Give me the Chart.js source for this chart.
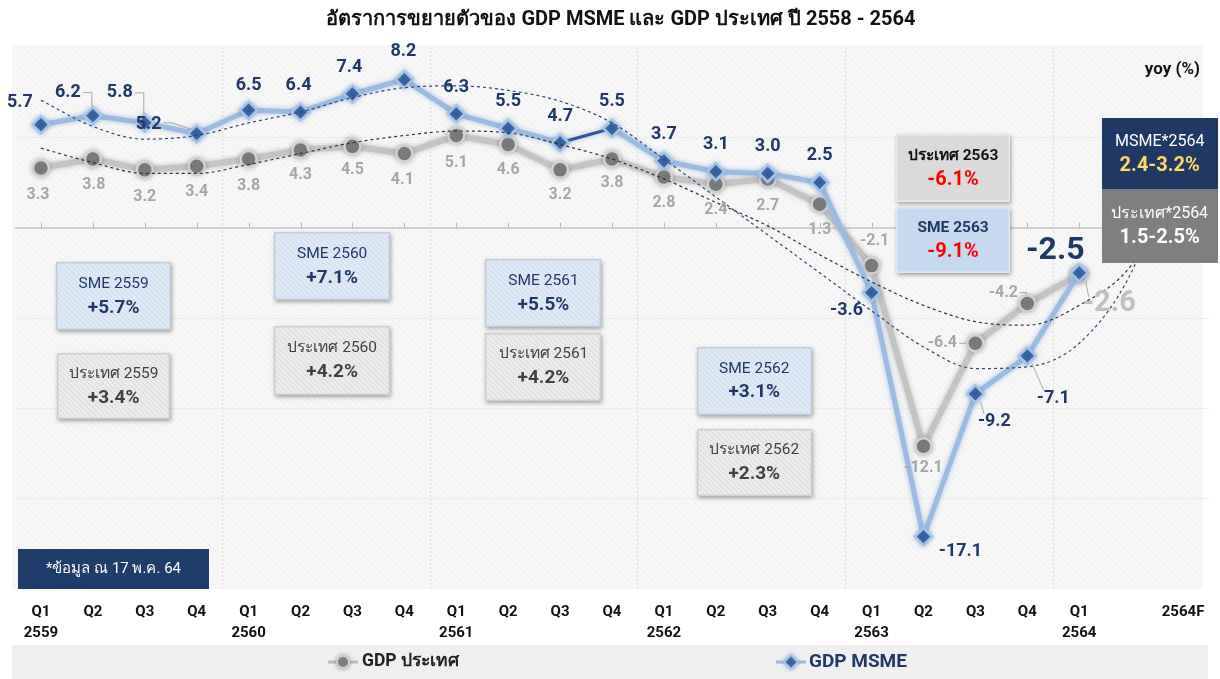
<!DOCTYPE html>
<html>
<head>
<meta charset="utf-8">
<script src="https://cdn.jsdelivr.net/npm/chart.js@4.4.1/dist/chart.umd.min.js"></script>
<style>
html,body{margin:0;padding:0;background:#fff;}
#wrap{width:1220px;height:679px;position:relative;}
</style>
</head>
<body>
<div id="wrap"><canvas id="c" width="1220" height="679"></canvas></div>
<script>
// ---------------- DATA ----------------
const quarterLabels = ['Q1','Q2','Q3','Q4','Q1','Q2','Q3','Q4','Q1','Q2','Q3','Q4','Q1','Q2','Q3','Q4','Q1','Q2','Q3','Q4','Q1','','2564F'];
const yearLabels    = ['2559','','','','2560','','','','2561','','','','2562','','','','2563','','','','2564','',''];
const gdpMsme   = [5.7, 6.2, 5.8, 5.2, 6.5, 6.4, 7.4, 8.2, 6.3, 5.5, 4.7, 5.5, 3.7, 3.1, 3.0, 2.5, -3.6, -17.1, -9.2, -7.1, -2.5];
const gdpThai   = [3.3, 3.8, 3.2, 3.4, 3.8, 4.3, 4.5, 4.1, 5.1, 4.6, 3.2, 3.8, 2.8, 2.4, 2.7, 1.3, -2.1, -12.1, -6.4, -4.2, -2.6];
// trend lines
const msmeTrend = [7.05, 5.6, 4.9, 5.1, 5.8, 6.4, 7.2, 7.75, 7.85, 7.6, 7.0, 5.8, 3.8, 1.7, -0.4, -2.5, -4.6, -6.6, -7.8, -7.7, -6.4, -2.5, 5.0];
const gdpTrend  = [4.4, 3.6, 3.0, 3.0, 3.5, 4.1, 4.7, 5.1, 5.35, 5.25, 4.6, 3.8, 2.7, 1.4, 0.1, -1.5, -3.0, -4.3, -5.2, -5.4, -4.3, -2.1, 3.0];
// summary boxes
const boxTitles = ['SME 2559','ประเทศ 2559','SME 2560','ประเทศ 2560','SME 2561','ประเทศ 2561','SME 2562','ประเทศ 2562','ประเทศ 2563','SME 2563','MSME*2564','ประเทศ*2564'];
const boxValues = ['+5.7%','+3.4%','+7.1%','+4.2%','+5.5%','+4.2%','+3.1%','+2.3%','-6.1%','-9.1%','2.4-3.2%','1.5-2.5%'];
const noteText = '*ข้อมูล ณ 17 พ.ค. 64';
const titleText = 'อัตราการขยายตัวของ GDP MSME และ GDP ประเทศ ปี 2558 - 2564';

// ---------------- LAYOUT / STYLE (not data) ----------------
const boxIdx   = [1.40,1.40,5.61,5.61,9.68,9.68,13.74,13.74,17.57,17.57,21.55,21.55];
const boxVal   = [-3.8,-8.75,-2.14,-7.33,-3.64,-7.69,-8.47,-13.0,3.3,-0.7,4.1,0.1];
const boxW     = [115,113,116,116,116,116,115,115,114,114,116,116];
const boxH     = [68,66,68,69,68,68,68,67,68,66,72,74];
const boxKind  = ['sme','gdp','sme','gdp','sme','gdp','sme','gdp','gdp63','sme63','msme64','gdp64'];

const msmeDx = [-21,-25,-25,-48,0,-2,-3,-1,0,0,0,0,0,0,0,0,-25,37,19,26,-24];
const msmeDy = [-22,-23,-30,-9,-25,-27,-26,-28,-26,-27,-26,-27,-26,-27,-27,-27,18,15,28,43,-22];
const msmeLead = [null,'bracket','bracket','elbow',null,null,null,null,null,null,null,null,null,null,null,null,null,null,'direct','direct',null];
const gdpDx = [-3,1,0,0,0,0,0,-2,0,0,0,0,0,0,0,0,3,0,-33,-24,30];
const gdpDy = [27,26,27,26,27,25,24,26,27,25,25,24,26,26,27,26,-25,22,0,-11,29];
const gdpLead = [null,null,null,null,null,null,null,null,null,null,null,null,null,null,null,null,null,null,'hline','bracket','direct'];

const FONT = "Roboto, 'Noto Sans', 'DejaVu Sans', sans-serif";

function makePattern(bg, fg, size) {
  const c = document.createElement('canvas');
  c.width = size; c.height = size;
  const g = c.getContext('2d');
  g.fillStyle = bg; g.fillRect(0,0,size,size);
  g.strokeStyle = fg; g.lineWidth = 1;
  g.beginPath();
  g.moveTo(0,0); g.lineTo(size,size);
  g.moveTo(-size/2, size/2); g.lineTo(size/2, size*1.5);
  g.moveTo(size/2, -size/2); g.lineTo(size*1.5, size/2);
  g.stroke();
  return c;
}

const categories = quarterLabels.map((q,i)=> yearLabels[i] ? [q, yearLabels[i]] : q);

const decor = {
  id: 'decor',
  beforeDraw(chart) {
    const {ctx, chartArea: a} = chart;
    ctx.save();
    ctx.fillStyle = '#ffffff';
    ctx.fillRect(0,0,chart.width,chart.height);
    const pc = makePattern('#f7f7f7','#f0f0f0',6);
    ctx.fillStyle = ctx.createPattern(pc,'repeat');
    ctx.fillRect(a.left - 3, a.top - 2, (a.right - 6) - (a.left - 3), a.bottom - a.top + 2);
    ctx.restore();
  },
  beforeDatasetsDraw(chart) {
    const {ctx, scales:{x,y}} = chart;
    const y0 = y.getPixelForValue(0);
    ctx.save();
    ctx.strokeStyle = '#b8b8b8'; ctx.lineWidth = 1;
    for (let i = 0; i < categories.length; i++) {
      const px = Math.round(x.getPixelForValue(i)) + 0.5;
      ctx.beginPath(); ctx.moveTo(px, y0 - 5); ctx.lineTo(px, y0); ctx.stroke();
    }
    ctx.restore();
  },
  afterDatasetsDraw(chart) {
    const {ctx, scales:{x,y}, chartArea:a} = chart;
    // ---- data labels ----
    const mMeta = chart.getDatasetMeta(2);
    const gMeta = chart.getDatasetMeta(3);
    ctx.save();
    ctx.textAlign = 'center'; ctx.textBaseline = 'middle';
    function drawLabel(pt, text, dx, dy, lead, font, color, pr) {
      const lx = pt.x + dx, ly = pt.y + dy;
      ctx.font = font;
      const w = ctx.measureText(text).width;
      if (lead) {
        ctx.strokeStyle = '#a8a8a8'; ctx.lineWidth = 1;
        ctx.beginPath();
        if (lead === 'bracket') {
          ctx.moveTo(lx + w/2 + 2, ly); ctx.lineTo(pt.x - 1, ly); ctx.lineTo(pt.x - 1, pt.y - pr);
        } else if (lead === 'elbow') {
          ctx.moveTo(lx + w/2 + 2, ly - 2); ctx.lineTo(lx + w/2 + 10, ly - 2); ctx.lineTo(pt.x - 4, pt.y - 4);
        } else if (lead === 'hline') {
          ctx.moveTo(lx + w/2 + 2, ly); ctx.lineTo(pt.x - pr, pt.y);
        } else {
          const vx = lx - pt.x, vy = ly - pt.y, d = Math.hypot(vx, vy);
          const ux = vx/d, uy = vy/d;
          ctx.moveTo(pt.x + ux*pr, pt.y + uy*pr);
          ctx.lineTo(lx - ux*(w/2+2), ly - uy*10);
        }
        ctx.stroke();
      }
      ctx.fillStyle = color;
      ctx.fillText(text, lx, ly);
    }
    gdpThai.forEach((v,i) => {
      const pt = gMeta.data[i];
      const big = i === gdpThai.length - 1;
      drawLabel(pt, v.toFixed(1), gdpDx[i], gdpDy[i], gdpLead[i],
        big ? `bold 29px ${FONT}` : `bold 16px ${FONT}`, big ? '#c0c0c0' : '#a6a6a6', 9);
    });
    gdpMsme.forEach((v,i) => {
      const pt = mMeta.data[i];
      const big = i === gdpMsme.length - 1;
      drawLabel(pt, v.toFixed(1), msmeDx[i], msmeDy[i], msmeLead[i],
        big ? `bold 32px ${FONT}` : `bold 18px ${FONT}`, '#1f3864', 9);
    });
    ctx.restore();

    // ---- summary boxes ----
    const smePat = ctx.createPattern(makePattern('#dfe9f6','#cbdbef',5),'repeat');
    const gdpPat = ctx.createPattern(makePattern('#ebebeb','#d8d8d8',5),'repeat');
    boxTitles.forEach((t,i) => {
      const cx = x.getPixelForValue(boxIdx[i]);
      const cy = y.getPixelForValue(boxVal[i]);
      const w = boxW[i], h = boxH[i];
      const bx = Math.round(cx - w/2), by = Math.round(cy - h/2);
      const k = boxKind[i];
      let fill, tFont, tCol, vFont, vCol, shadow = true, border = null;
      if (k === 'sme') { fill = smePat; tFont = `15.5px ${FONT}`; tCol = '#1f3864'; vFont = `bold 19px ${FONT}`; vCol = '#1f3864'; border = '#c3cddb'; }
      else if (k === 'gdp') { fill = gdpPat; tFont = `15.5px ${FONT}`; tCol = '#404040'; vFont = `bold 19px ${FONT}`; vCol = '#404040'; border = '#cfcfcf'; }
      else if (k === 'gdp63') { fill = '#dadada'; tFont = `bold 15.5px ${FONT}`; tCol = '#111111'; vFont = `bold 20px ${FONT}`; vCol = '#ff0000'; border = '#e8e8e8'; }
      else if (k === 'sme63') { fill = '#c6d9f1'; tFont = `bold 15.5px ${FONT}`; tCol = '#1f3864'; vFont = `bold 20px ${FONT}`; vCol = '#ff0000'; border = '#dde8f6'; }
      else if (k === 'msme64') { fill = '#1f3864'; tFont = `16px ${FONT}`; tCol = '#ffffff'; vFont = `bold 20px ${FONT}`; vCol = '#ffd966'; shadow = false; }
      else { fill = '#7f7f7f'; tFont = `16px ${FONT}`; tCol = '#ffffff'; vFont = `bold 20px ${FONT}`; vCol = '#ffffff'; shadow = false; }
      ctx.save();
      if (shadow) { ctx.shadowColor = 'rgba(0,0,0,0.35)'; ctx.shadowBlur = 4; ctx.shadowOffsetX = 1; ctx.shadowOffsetY = 2; }
      ctx.fillStyle = fill;
      ctx.fillRect(bx, by, w, h);
      ctx.restore();
      ctx.save();
      if (border) { ctx.strokeStyle = border; ctx.lineWidth = 1.5; ctx.strokeRect(bx + 0.75, by + 0.75, w - 1.5, h - 1.5); }
      ctx.textAlign = 'center'; ctx.textBaseline = 'middle';
      ctx.font = tFont; ctx.fillStyle = tCol;
      ctx.fillText(t, cx, cy - 12);
      ctx.font = vFont; ctx.fillStyle = vCol;
      ctx.fillText(boxValues[i], cx, cy + 12);
      ctx.restore();
    });

    // ---- note box ----
    ctx.save();
    ctx.fillStyle = '#1f3d6b';
    ctx.fillRect(a.left + 3, a.bottom - 40, 191, 40);
    ctx.fillStyle = '#ffffff';
    ctx.font = `15px ${FONT}`;
    ctx.textAlign = 'center'; ctx.textBaseline = 'middle';
    ctx.fillText(noteText, a.left + 3 + 95.5, a.bottom - 20);
    ctx.restore();
  },
  afterDraw(chart) {
    const {ctx} = chart;
    ctx.save();
    // title
    ctx.fillStyle = '#111111';
    ctx.font = `bold 20px ${FONT}`;
    ctx.textAlign = 'center'; ctx.textBaseline = 'middle';
    ctx.fillText(titleText, 621, 20);
    // yoy
    ctx.font = `bold 17px ${FONT}`;
    ctx.textAlign = 'right';
    ctx.fillText('yoy (%)', 1200, 70);
    // legend band
    ctx.fillStyle = '#efefef';
    ctx.fillRect(12, 645, 1196, 34);
    const ly = 662;
    // item 1
    ctx.strokeStyle = '#bdbdbd'; ctx.lineWidth = 3;
    ctx.beginPath(); ctx.moveTo(328, ly); ctx.lineTo(358, ly); ctx.stroke();
    ctx.shadowColor = 'rgba(120,120,120,0.6)'; ctx.shadowBlur = 4;
    ctx.fillStyle = '#808080'; ctx.strokeStyle = '#cfcfcf'; ctx.lineWidth = 2;
    ctx.beginPath(); ctx.arc(343, ly, 6, 0, Math.PI*2); ctx.fill(); ctx.stroke();
    ctx.shadowBlur = 0; ctx.shadowColor = 'transparent';
    ctx.fillStyle = '#222222';
    ctx.font = `bold 17.5px ${FONT}`;
    ctx.textAlign = 'left';
    ctx.fillText('GDP ประเทศ', 362, ly);
    // item 2
    ctx.strokeStyle = '#9bbbe2'; ctx.lineWidth = 3;
    ctx.beginPath(); ctx.moveTo(776, ly); ctx.lineTo(806, ly); ctx.stroke();
    ctx.shadowColor = 'rgba(120,150,200,0.7)'; ctx.shadowBlur = 4;
    ctx.fillStyle = '#2f5b9b'; ctx.strokeStyle = '#a6c3ea'; ctx.lineWidth = 2;
    ctx.beginPath(); ctx.moveTo(791, ly-7); ctx.lineTo(798, ly); ctx.lineTo(791, ly+7); ctx.lineTo(784, ly); ctx.closePath(); ctx.fill(); ctx.stroke();
    ctx.shadowBlur = 0; ctx.shadowColor = 'transparent';
    ctx.fillStyle = '#1f3864';
    ctx.font = `bold 19px ${FONT}`;
    ctx.fillText('GDP MSME', 809, ly);
    ctx.restore();
  }
};

const glow = {
  id: 'glow',
  beforeDatasetDraw(chart, args) {
    const i = args.index;
    if (i === 2 || i === 3) {
      chart.ctx.save();
      chart.ctx.shadowColor = i === 2 ? 'rgba(110,150,210,0.55)' : 'rgba(120,120,120,0.45)';
      chart.ctx.shadowBlur = 5;
    }
  },
  afterDatasetDraw(chart, args) {
    const i = args.index;
    if (i === 2 || i === 3) chart.ctx.restore();
  }
};

new Chart(document.getElementById('c'), {
  type: 'line',
  data: {
    labels: categories,
    datasets: [
      { label: 'MSME trend', data: msmeTrend, borderColor: '#2c4a78', borderWidth: 1.2, borderDash: [3,3],
        pointRadius: 0, cubicInterpolationMode: 'monotone', fill: false },
      { label: 'GDP trend', data: gdpTrend, borderColor: '#333333', borderWidth: 1.2, borderDash: [3,3],
        pointRadius: 0, cubicInterpolationMode: 'monotone', fill: false },
      { label: 'GDP MSME', data: gdpMsme, borderColor: '#9bbbe2', borderWidth: 5,
        pointStyle: 'rectRot', pointRadius: 8.5, pointBackgroundColor: '#2f5b9b', pointBorderColor: '#a6c3ea', pointBorderWidth: 2.5,
        segment: {
          borderColor: c => c.p0DataIndex === 10 ? '#2f5597' : undefined,
          borderWidth: c => c.p0DataIndex === 10 ? 3 : undefined
        },
        tension: 0, fill: false },
      { label: 'GDP ประเทศ', data: gdpThai, borderColor: '#c4c4c4', borderWidth: 6,
        pointStyle: 'circle', pointRadius: 8, pointBackgroundColor: '#7a7a7a', pointBorderColor: '#d2d2d2', pointBorderWidth: 2.5,
        tension: 0, fill: false }
    ]
  },
  options: {
    responsive: false,
    devicePixelRatio: 1,
    animation: false,
    events: [],
    layout: { padding: { left: 15, right: 6, top: 47, bottom: 22 } },
    plugins: { legend: { display: false }, tooltip: { enabled: false }, title: { display: false } },
    scales: {
      x: {
        type: 'category',
        offset: true,
        grid: {
          offset: true,
          drawTicks: false,
          color: c => (c.index > 0 && c.index <= 20 && c.index % 4 === 0) ? '#d9d9d9' : 'rgba(0,0,0,0)',
          lineWidth: 1
        },
        border: { display: false, dash: [2,2] },
        ticks: {
          autoSkip: false, maxRotation: 0, minRotation: 0, padding: 13,
          color: '#111111',
          font: { family: FONT, size: 15, weight: 'bold', lineHeight: 1.4 }
        }
      },
      y: {
        min: -20, max: 10,
        ticks: { display: false, stepSize: 5 },
        grid: {
          drawTicks: false,
          color: c => {
            const v = c.tick && c.tick.value;
            if (v === 0) return '#cfcfcf';
            if (v <= 5 && v >= -15) return '#ececec';
            return 'rgba(0,0,0,0)';
          },
          lineWidth: c => (c.tick && c.tick.value === 0) ? 2 : 1
        },
        border: { display: false }
      }
    }
  },
  plugins: [decor, glow]
});
</script>
</body>
</html>
